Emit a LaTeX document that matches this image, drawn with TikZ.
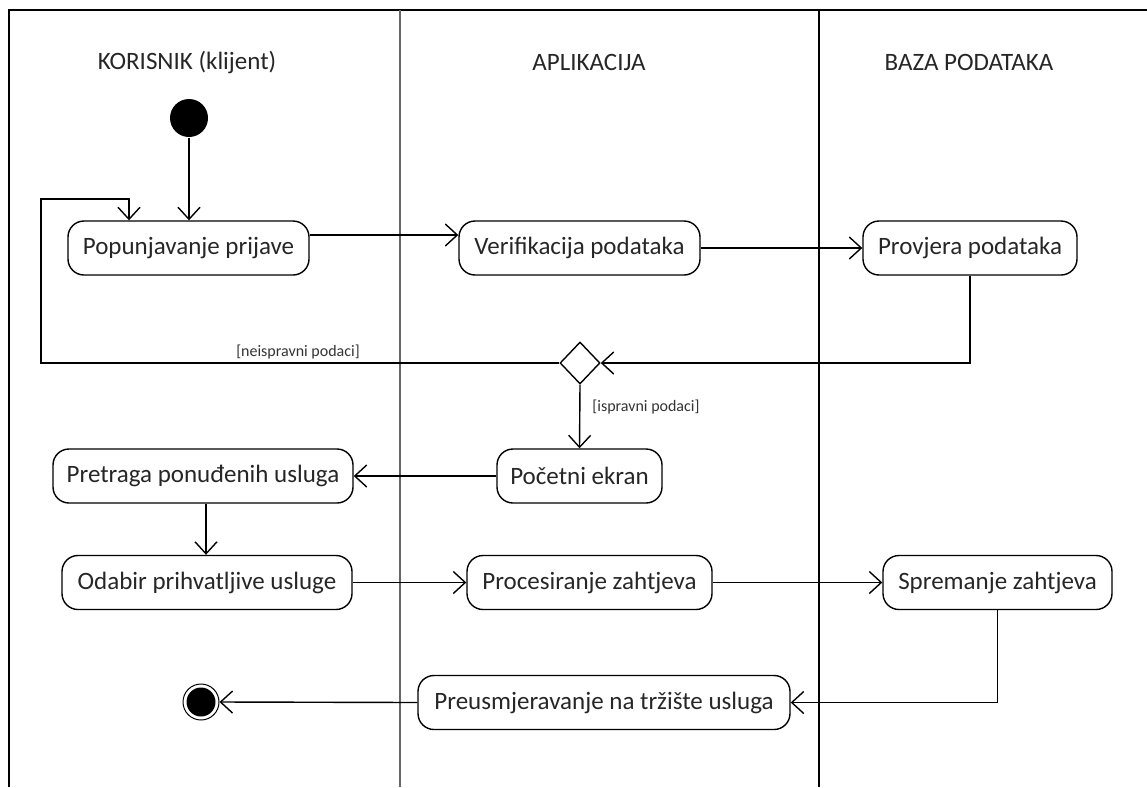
\documentclass[tikz,border=0pt]{standalone}
\usepackage{fontspec}
\setmainfont{Carlito}
\usetikzlibrary{arrows.meta,shapes.geometric}
\begin{document}
\begin{tikzpicture}[x=1pt,y=-1pt,
  line width=1.4pt,
  act/.style={draw, rounded corners=16pt, minimum height=54pt, inner sep=0pt, font=\fontsize{25}{30}\selectfont, text=black!85},
  lane/.style={font=\fontsize{25}{30}\selectfont, text=black!85},
  guard/.style={font=\fontsize{16}{19}\selectfont, text=black!80},
  arr/.style={-{Straight Barb[length=12pt,width=22pt]}}
]
\useasboundingbox (0,0) rectangle (1147,787);
% frame
\draw (9,787) -- (9,10) -- (1147,10);
\draw[black!60] (400,10) -- (400,787);
\draw (819,10) -- (819,787);
% lane titles
\node[lane] (t1) at (187,62) {KORISNIK (klijent)};
\node[lane] (t2) at (589,62) {APLIKACIJA};
\node[lane] (t3) at (969,62) {BAZA PODATAKA};
% nodes
\node[circle, fill=black, minimum size=38pt, inner sep=0pt] (start) at (189,118) {};
\node[act, minimum width=241pt] (popu) at (188.5,248) {Popunjavanje prijave};
\node[act, minimum width=241pt] (verif) at (579.5,248) {Verifikacija podataka};
\node[act, minimum width=214pt] (prov) at (970,248) {Provjera podataka};
\node[draw, diamond, minimum width=40pt, minimum height=42pt, inner sep=0pt] (dia) at (580,363) {};
\node[act, minimum width=165pt] (poc) at (579.5,476) {Početni ekran};
\node[act, minimum width=300pt] (pret) at (203,476) {Pretraga ponuđenih usluga};
\node[act, minimum width=290pt] (odab) at (207,582.5) {Odabir prihvatljive usluge};
\node[act, minimum width=245pt] (proc) at (589.5,582.5) {Procesiranje zahtjeva};
\node[act, minimum width=229pt] (sprem) at (997.5,582.5) {Spremanje zahtjeva};
\node[act, minimum width=372pt] (preus) at (604,702.5) {Preusmjeravanje na tržište usluga};
\node[circle, draw, minimum size=36pt, inner sep=0pt, line width=1pt] (end) at (201,702) {};
\fill (end) circle (14.5);
% connectors
\draw[arr] (start.south) -- (start.south |- popu.north);
\coordinate (lpA) at (41,199);
\coordinate (lpB) at (129,199);
\draw[arr] (dia.west) -| (lpA) -- (lpB) -- (lpB |- popu.north);
\node[guard] (g1) at (298,352) {[neispravni podaci]};
\draw[arr] ([yshift=13pt]popu.east) -- ([yshift=13pt]verif.west);
\draw[arr] (verif.east) -- (prov.west);
\draw[arr] (prov.south) |- (dia.east);
\draw[arr] (dia.south) -- (poc.north);
\node[guard] (g2) at (646,407) {[ispravni podaci]};
\draw[arr] (poc.west) -- (pret.east);
\draw[arr] ([xshift=3pt]pret.south) -- ([xshift=3pt]pret.south |- odab.north);
\draw[arr] (odab.east) -- (proc.west);
\draw[arr] (proc.east) -- (sprem.west);
\draw[arr] (sprem.south) |- (preus.east);
\draw[arr] (preus.west) -- (end.east);
\end{tikzpicture}
\end{document}
